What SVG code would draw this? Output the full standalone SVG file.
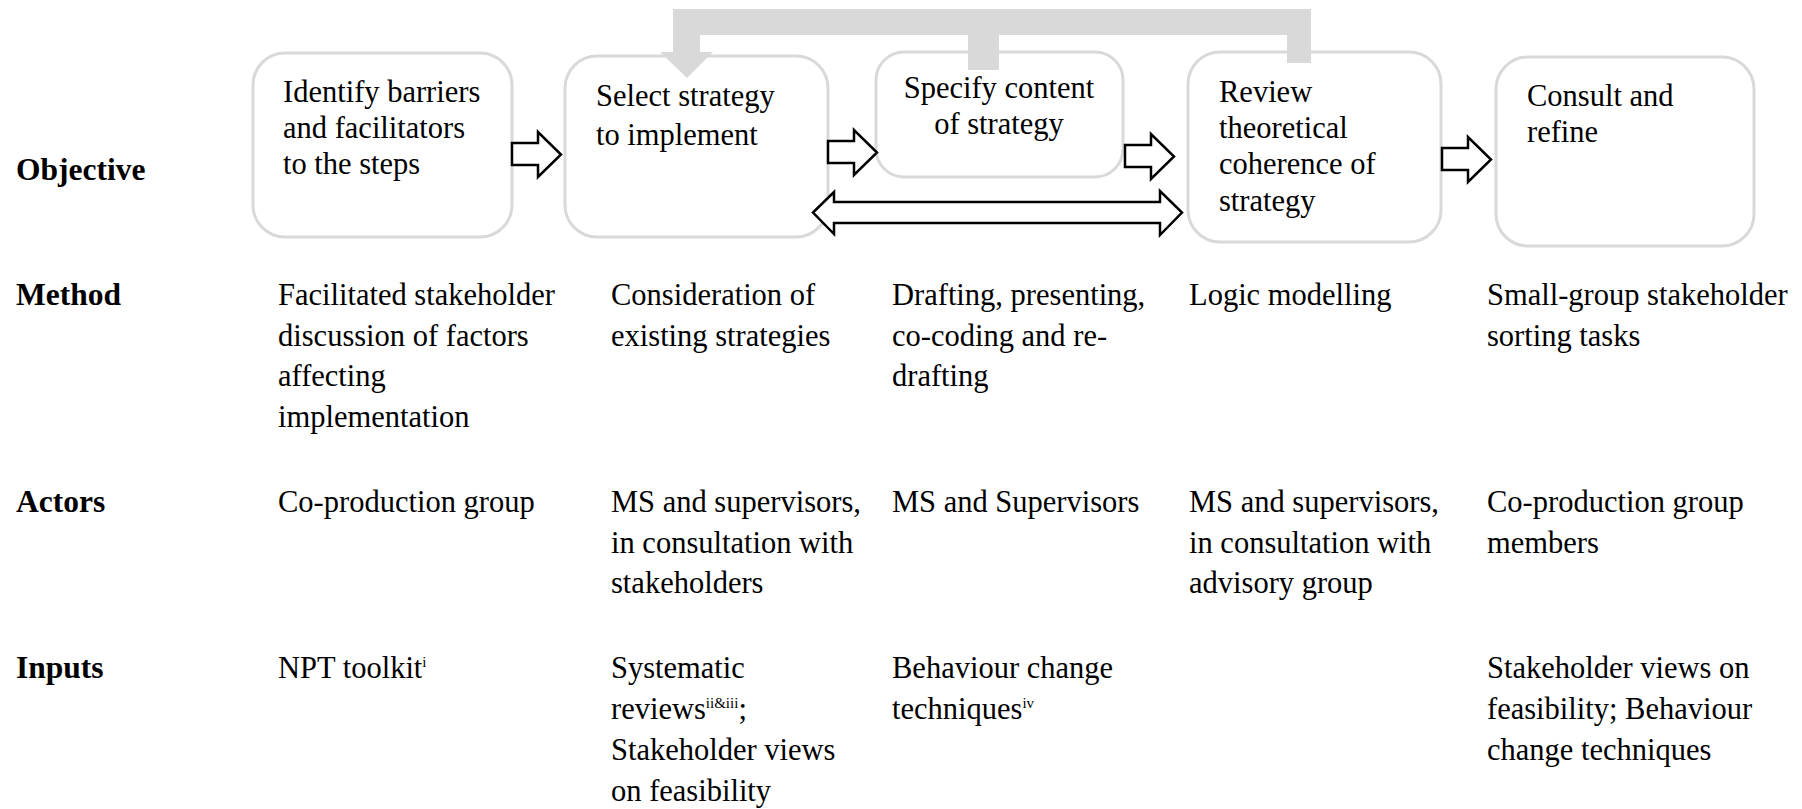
<svg xmlns="http://www.w3.org/2000/svg" width="1802" height="809" viewBox="0 0 1802 809" font-family="'Liberation Serif', 'Times New Roman', serif">
  <style>
    text { font-family: "Liberation Serif", "Times New Roman", serif; font-size: 30.5px; fill: #000; }
    .lbl { font-weight: bold; font-size: 31.5px; }
    .box { fill: #fff; stroke: #d9d9d9; stroke-width: 3; }
    .blk { fill: #fff; stroke: #000; stroke-width: 2.5; stroke-linejoin: miter; }
    .fb { fill: #d9d9d9; stroke: none; }
    .sup { font-size: 15px; }
  </style>

  <!-- row labels -->
  <g id="row-labels">
    <text class="lbl" x="16" y="180">Objective</text>
    <text class="lbl" x="16" y="305">Method</text>
    <text class="lbl" x="16" y="512">Actors</text>
    <text class="lbl" x="16" y="678">Inputs</text>
  </g>

  <!-- objective boxes -->
  <g id="step-identify">
    <rect class="box" x="253" y="53" width="259" height="184" rx="32"/>
    <text x="283" y="102">Identify barriers</text>
    <text x="283" y="138">and facilitators</text>
    <text x="283" y="174">to the steps</text>
  </g>
  <g id="step-select">
    <rect class="box" x="565" y="56" width="263" height="181" rx="32"/>
    <text x="596" y="106">Select strategy</text>
    <text x="596" y="145">to implement</text>
  </g>
  <g id="step-specify">
    <rect class="box" x="876" y="52" width="247" height="125" rx="28"/>
    <text x="999" y="98" text-anchor="middle">Specify content</text>
    <text x="999" y="134" text-anchor="middle">of strategy</text>
  </g>
  <g id="step-review">
    <rect class="box" x="1188" y="52" width="253" height="190" rx="32"/>
    <text x="1219" y="102">Review</text>
    <text x="1219" y="138">theoretical</text>
    <text x="1219" y="174">coherence of</text>
    <text x="1219" y="211">strategy</text>
  </g>
  <g id="step-consult">
    <rect class="box" x="1496" y="57" width="258" height="189" rx="32"/>
    <text x="1527" y="106">Consult and</text>
    <text x="1527" y="142">refine</text>
  </g>

  <!-- connectors -->
  <g id="connectors">
    <!-- feedback loop from review and specify back to select -->
    <path class="fb" d="M673,9 H1311 V63 H1287 V35 H999 V70 H968 V35 H700 V52 H713 L687,78 L660,52 H673 Z"/>
    <!-- forward block arrows -->
    <path class="blk" d="M512,143 H538 V132 L561,154.5 L538,177 V165 H512 Z"/>
    <path class="blk" d="M828,141 H854 V130 L877,152.5 L854,175 V163 H828 Z"/>
    <path class="blk" d="M1125,145 H1151 V134 L1174,156.5 L1151,179 V167 H1125 Z"/>
    <path class="blk" d="M1442,148 H1468 V137 L1491,159.5 L1468,182 V170 H1442 Z"/>
    <!-- two-way arrow between select and review -->
    <path class="blk" d="M813,212.5 L834,192 V202 H1160 V191 L1182,212.5 L1160,235 V223 H834 V234 Z"/>
  </g>

  <!-- method row -->
  <g id="method">
    <text x="278" y="305">Facilitated stakeholder</text>
    <text x="278" y="346">discussion of factors</text>
    <text x="278" y="386">affecting</text>
    <text x="278" y="427">implementation</text>
    <text x="611" y="305">Consideration of</text>
    <text x="611" y="346">existing strategies</text>
    <text x="892" y="305">Drafting, presenting,</text>
    <text x="892" y="346">co-coding and re-</text>
    <text x="892" y="386">drafting</text>
    <text x="1189" y="305">Logic modelling</text>
    <text x="1487" y="305">Small-group stakeholder</text>
    <text x="1487" y="346">sorting tasks</text>
  </g>

  <!-- actors row -->
  <g id="actors">
    <text x="278" y="512">Co-production group</text>
    <text x="611" y="512">MS and supervisors,</text>
    <text x="611" y="553">in consultation with</text>
    <text x="611" y="593">stakeholders</text>
    <text x="892" y="512">MS and Supervisors</text>
    <text x="1189" y="512">MS and supervisors,</text>
    <text x="1189" y="553">in consultation with</text>
    <text x="1189" y="593">advisory group</text>
    <text x="1487" y="512">Co-production group</text>
    <text x="1487" y="553">members</text>
  </g>

  <!-- inputs row -->
  <g id="inputs">
    <text x="278" y="678">NPT toolkit<tspan class="sup" dy="-11">i</tspan></text>
    <text x="611" y="678">Systematic</text>
    <text x="611" y="719">reviews<tspan class="sup" dy="-11">ii&amp;iii</tspan><tspan dy="11">;</tspan></text>
    <text x="611" y="760">Stakeholder views</text>
    <text x="611" y="801">on feasibility</text>
    <text x="892" y="678">Behaviour change</text>
    <text x="892" y="719">techniques<tspan class="sup" dy="-11">iv</tspan></text>
    <text x="1487" y="678">Stakeholder views on</text>
    <text x="1487" y="719">feasibility; Behaviour</text>
    <text x="1487" y="760">change techniques</text>
  </g>
</svg>
